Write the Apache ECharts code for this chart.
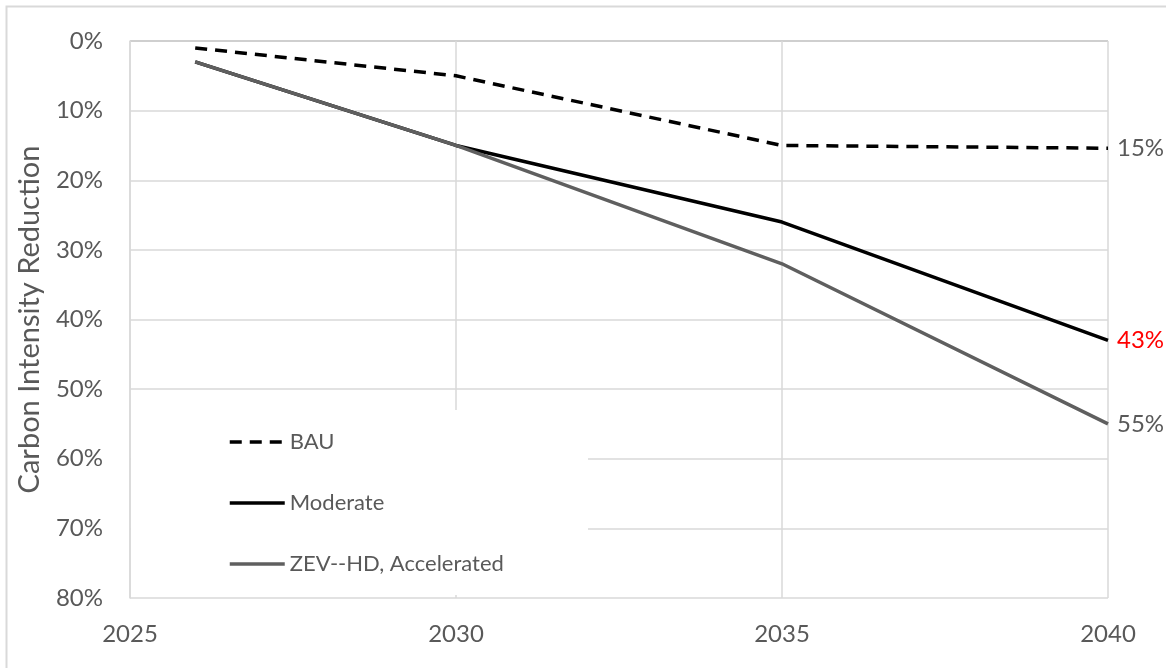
<!DOCTYPE html>
<html>
<head>
<meta charset="utf-8">
<title>Carbon Intensity Reduction</title>
<script src="https://cdn.jsdelivr.net/npm/echarts@6/dist/echarts.min.js"></script>
<style>
  html, body { margin: 0; padding: 0; background: #fff; }
  #chart { width: 1166px; height: 668px; }
</style>
</head>
<body>
<div id="chart"></div>
<script>
// Scenario data: carbon intensity reduction (%) by year
const years = [2026, 2030, 2035, 2040];
const bau = [1, 5, 15, 15.4];
const moderate = [3, 15, 26, 43];
const zevAccelerated = [3, 15, 32, 55];
const seriesNames = ['BAU', 'Moderate', 'ZEV--HD, Accelerated'];
const yTicks = [0, 10, 20, 30, 40, 50, 60, 70, 80];
const xTicks = [2025, 2030, 2035, 2040];

const FONT = 'Lato, "Open Sans", sans-serif';
const GRAY_TEXT = '#595959';

function pairs(values) {
  return years.map((y, i) => [y, values[i]]);
}

const chart = echarts.init(document.getElementById('chart'), null, { renderer: 'canvas' });

const endLabel = (color) => ({
  show: true,
  distance: 9,
  color: color,
  fontSize: 24,
  fontFamily: FONT,
  formatter: (p) => Math.round(p.value[1]) + '%'
});

chart.setOption({
  animation: false,
  backgroundColor: '#fff',
  textStyle: { fontFamily: FONT },
  grid: { left: 130, right: 58, top: 41, bottom: 70 },
  graphic: [
    {
      type: 'rect', z: 0, silent: true,
      shape: { x: 6.5, y: 6.5, width: 1200, height: 700 },
      style: { fill: 'none', stroke: '#d9d9d9', lineWidth: 2 }
    },
    {
      // white panel behind the legend
      type: 'rect', z: 1, silent: true,
      shape: { x: 131, y: 410, width: 457, height: 185 },
      style: { fill: '#ffffff' }
    }
  ],
  legend: {
    orient: 'vertical',
    left: 228,
    top: 431,
    padding: 0,
    z: 5,
    itemWidth: 55,
    itemHeight: 14,
    itemGap: 39,
    data: seriesNames,
    itemStyle: { opacity: 0 },
    lineStyle: { width: 3.5 },
    textStyle: { fontSize: 22, color: GRAY_TEXT, fontFamily: FONT, lineHeight: 22 }
  },
  xAxis: {
    type: 'value',
    min: 2025,
    max: 2040,
    interval: 5,
    axisLine: { show: false },
    axisTick: { show: false },
    axisLabel: { fontSize: 24, color: GRAY_TEXT, margin: 24, fontFamily: FONT,
      customValues: xTicks, formatter: (v) => String(v) },
    splitLine: { show: true, lineStyle: { color: '#d9d9d9', width: 1.5 } }
  },
  yAxis: {
    type: 'value',
    inverse: true,
    min: 0,
    max: 80,
    interval: 10,
    name: 'Carbon Intensity Reduction',
    nameLocation: 'middle',
    nameGap: 86,
    nameTextStyle: { fontSize: 29, color: GRAY_TEXT, fontFamily: FONT },
    axisLine: { show: true, lineStyle: { color: '#d9d9d9', width: 1.5 } },
    axisTick: { show: false },
    axisLabel: { fontSize: 24, color: GRAY_TEXT, margin: 27, fontFamily: FONT,
      formatter: (v) => (yTicks.includes(v) ? v + '%' : '') },
    splitLine: {
      show: true,
      lineStyle: { color: ['#bfbfbf', '#d9d9d9', '#d9d9d9', '#d9d9d9', '#d9d9d9', '#d9d9d9', '#d9d9d9', '#d9d9d9', '#d9d9d9'], width: 1.5 }
    }
  },
  series: [
    {
      name: seriesNames[0],
      type: 'line',
      data: pairs(bau),
      symbol: 'none',
      lineStyle: { color: '#000', width: 3.5, type: [12, 8] },
      itemStyle: { color: '#000' },
      endLabel: endLabel(GRAY_TEXT)
    },
    {
      name: seriesNames[1],
      type: 'line',
      data: pairs(moderate),
      symbol: 'none',
      lineStyle: { color: '#000', width: 3.5 },
      itemStyle: { color: '#000' },
      endLabel: endLabel('#ff0000')
    },
    {
      name: seriesNames[2],
      type: 'line',
      data: pairs(zevAccelerated),
      symbol: 'none',
      lineStyle: { color: '#5f5f5f', width: 3.5 },
      itemStyle: { color: '#5f5f5f' },
      endLabel: endLabel(GRAY_TEXT)
    }
  ]
});
</script>
</body>
</html>
